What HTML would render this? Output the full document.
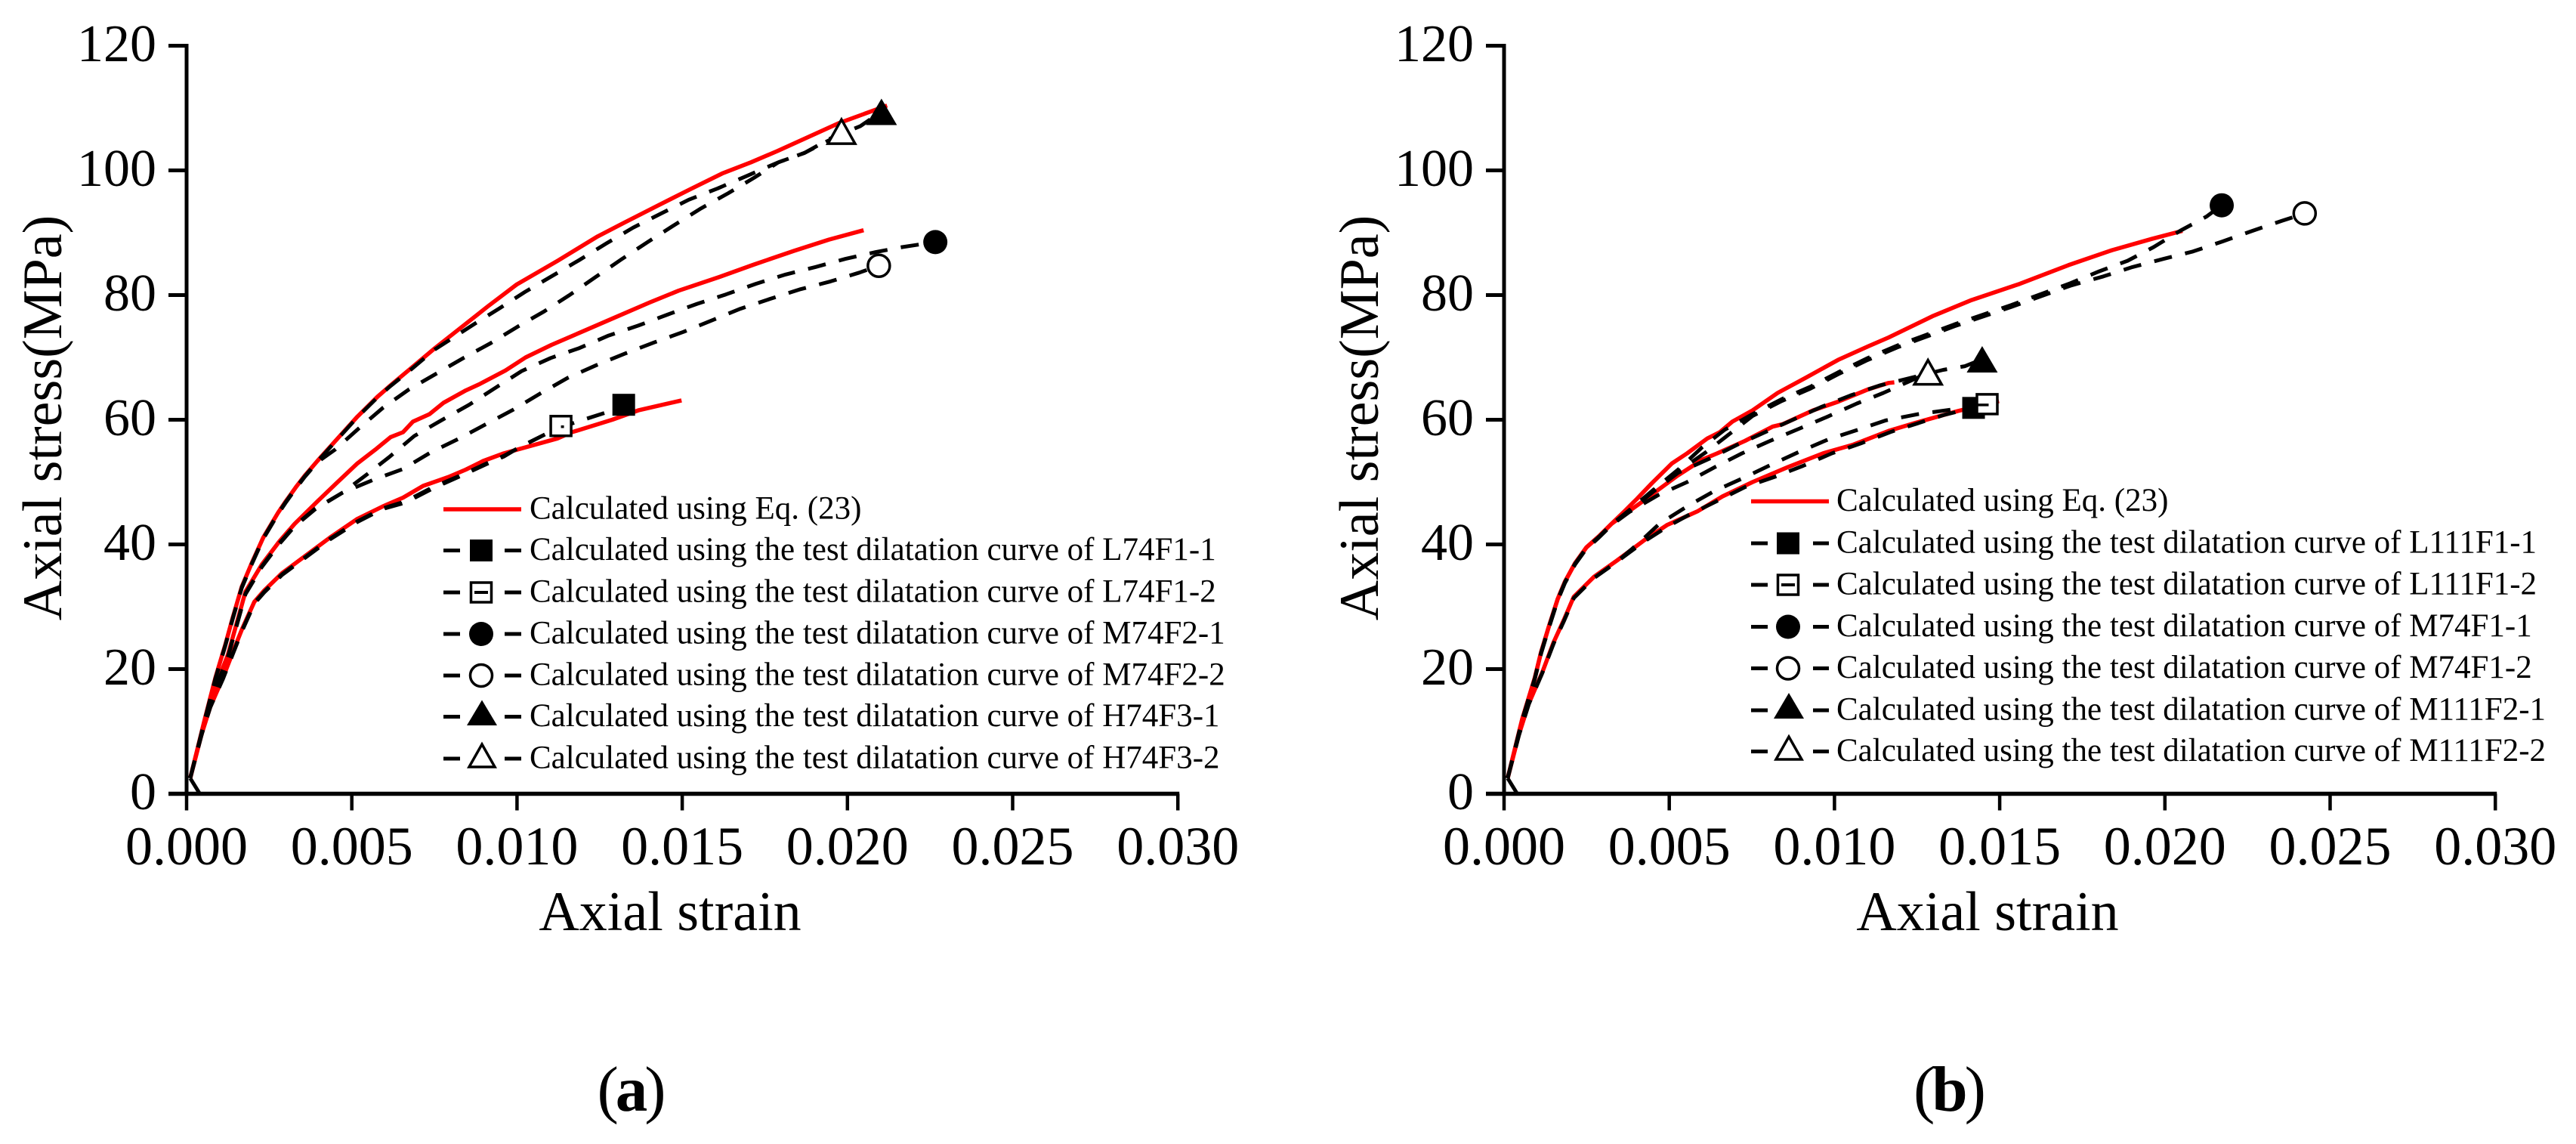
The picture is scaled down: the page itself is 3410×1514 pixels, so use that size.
<!DOCTYPE html>
<html lang="en">
<head>
<meta charset="utf-8">
<title>Axial stress versus axial strain</title>
<style>
html,body{margin:0;padding:0;background:#fff;width:3410px;height:1514px;overflow:hidden}
svg{position:absolute;left:0;top:0;display:block}
text{font-family:"Liberation Serif",serif;fill:#000}
.leg{font-size:43px}
.ttl{font-size:74px}
.cap{font-size:85px;letter-spacing:-4px}
</style>
</head>
<body>
<svg id="figure" width="3410" height="1514" viewBox="0 0 3410 1514" xmlns="http://www.w3.org/2000/svg">
  <rect width="3410" height="1514" fill="#fff"/>

  <g id="panel-a">
    <text class="ttl" x="887" y="1231" text-anchor="middle">Axial strain</text>
    <text class="ttl" transform="translate(81,553) rotate(-90)" text-anchor="middle">Axial stress(MPa)</text>
  </g>
  <g id="panel-b">
    <text class="ttl" x="2631" y="1231" text-anchor="middle">Axial strain</text>
    <text class="ttl" transform="translate(1824,553) rotate(-90)" text-anchor="middle">Axial stress(MPa)</text>
  </g>

  <g id="legend-a" stroke-linecap="butt">
    <g>
      <line x1="587" x2="690" y1="674" y2="674" stroke="#f00" stroke-width="5.5"/>
      <text class="leg" x="701" y="686.5">Calculated using Eq. (23)</text>
    </g>
    <g>
      <line x1="587" x2="609" y1="728.5" y2="728.5" stroke="#000" stroke-width="5"/><line x1="668" x2="690" y1="728.5" y2="728.5" stroke="#000" stroke-width="5"/>
      <rect x="622" y="714" width="30" height="29" fill="#000"/>
      <text class="leg" x="701" y="741">Calculated using the test dilatation curve of L74F1-1</text>
    </g>
    <g>
      <line x1="587" x2="609" y1="784" y2="784" stroke="#000" stroke-width="5"/><line x1="668" x2="690" y1="784" y2="784" stroke="#000" stroke-width="5"/>
      <rect x="623.5" y="771" width="27" height="26" fill="#fff" stroke="#000" stroke-width="3.5"/>
      <line x1="628" x2="646" y1="784" y2="784" stroke="#000" stroke-width="4"/>
      <text class="leg" x="701" y="796.5">Calculated using the test dilatation curve of L74F1-2</text>
    </g>
    <g>
      <line x1="587" x2="609" y1="839" y2="839" stroke="#000" stroke-width="5"/><line x1="668" x2="690" y1="839" y2="839" stroke="#000" stroke-width="5"/>
      <circle cx="637" cy="839" r="16" fill="#000"/>
      <text class="leg" x="701" y="851.5">Calculated using the test dilatation curve of M74F2-1</text>
    </g>
    <g>
      <line x1="587" x2="609" y1="894" y2="894" stroke="#000" stroke-width="5"/><line x1="668" x2="690" y1="894" y2="894" stroke="#000" stroke-width="5"/>
      <circle cx="637" cy="894" r="14.5" fill="#fff" stroke="#000" stroke-width="3.5"/>
      <text class="leg" x="701" y="906.5">Calculated using the test dilatation curve of M74F2-2</text>
    </g>
    <g>
      <line x1="587" x2="609" y1="948.5" y2="948.5" stroke="#000" stroke-width="5"/><line x1="668" x2="690" y1="948.5" y2="948.5" stroke="#000" stroke-width="5"/>
      <polygon points="638,926.5 658,960 618,960" fill="#000"/>
      <text class="leg" x="701" y="961">Calculated using the test dilatation curve of H74F3-1</text>
    </g>
    <g>
      <line x1="587" x2="609" y1="1004" y2="1004" stroke="#000" stroke-width="5"/><line x1="668" x2="690" y1="1004" y2="1004" stroke="#000" stroke-width="5"/>
      <polygon points="638,985 655,1015 621,1015" fill="#fff" stroke="#000" stroke-width="3.5"/>
      <text class="leg" x="701" y="1016.5">Calculated using the test dilatation curve of H74F3-2</text>
    </g>
  </g>

  <g id="legend-b" stroke-linecap="butt">
    <g>
      <line x1="2318" x2="2421" y1="663.5" y2="663.5" stroke="#f00" stroke-width="5.5"/>
      <text class="leg" x="2431" y="676">Calculated using Eq. (23)</text>
    </g>
    <g>
      <line x1="2318" x2="2340" y1="719" y2="719" stroke="#000" stroke-width="5"/><line x1="2400" x2="2421" y1="719" y2="719" stroke="#000" stroke-width="5"/>
      <rect x="2352" y="704.5" width="30" height="29" fill="#000"/>
      <text class="leg" x="2431" y="731.5">Calculated using the test dilatation curve of L111F1-1</text>
    </g>
    <g>
      <line x1="2318" x2="2340" y1="774" y2="774" stroke="#000" stroke-width="5"/><line x1="2400" x2="2421" y1="774" y2="774" stroke="#000" stroke-width="5"/>
      <rect x="2353.5" y="761" width="27" height="26" fill="#fff" stroke="#000" stroke-width="3.5"/>
      <line x1="2358" x2="2376" y1="774" y2="774" stroke="#000" stroke-width="4"/>
      <text class="leg" x="2431" y="786.5">Calculated using the test dilatation curve of L111F1-2</text>
    </g>
    <g>
      <line x1="2318" x2="2340" y1="829.5" y2="829.5" stroke="#000" stroke-width="5"/><line x1="2400" x2="2421" y1="829.5" y2="829.5" stroke="#000" stroke-width="5"/>
      <circle cx="2367" cy="829.5" r="16" fill="#000"/>
      <text class="leg" x="2431" y="842">Calculated using the test dilatation curve of M74F1-1</text>
    </g>
    <g>
      <line x1="2318" x2="2340" y1="884.5" y2="884.5" stroke="#000" stroke-width="5"/><line x1="2400" x2="2421" y1="884.5" y2="884.5" stroke="#000" stroke-width="5"/>
      <circle cx="2367" cy="884.5" r="14.5" fill="#fff" stroke="#000" stroke-width="3.5"/>
      <text class="leg" x="2431" y="897">Calculated using the test dilatation curve of M74F1-2</text>
    </g>
    <g>
      <line x1="2318" x2="2340" y1="940" y2="940" stroke="#000" stroke-width="5"/><line x1="2400" x2="2421" y1="940" y2="940" stroke="#000" stroke-width="5"/>
      <polygon points="2368,917 2388,951 2348,951" fill="#000"/>
      <text class="leg" x="2431" y="952.5">Calculated using the test dilatation curve of M111F2-1</text>
    </g>
    <g>
      <line x1="2318" x2="2340" y1="994.5" y2="994.5" stroke="#000" stroke-width="5"/><line x1="2400" x2="2421" y1="994.5" y2="994.5" stroke="#000" stroke-width="5"/>
      <polygon points="2368,975 2385,1005 2351,1005" fill="#fff" stroke="#000" stroke-width="3.5"/>
      <text class="leg" x="2431" y="1007">Calculated using the test dilatation curve of M111F2-2</text>
    </g>
  </g>

  <text class="cap" x="834" y="1470" text-anchor="middle">(<tspan font-weight="bold">a</tspan>)</text>
  <text class="cap" x="2579" y="1470" text-anchor="middle">(<tspan font-weight="bold">b</tspan>)</text>
</svg>

<script>
// ---- axis values ----
const yTickValues = [0, 20, 40, 60, 80, 100, 120];
const xTickValues = [0, 0.005, 0.010, 0.015, 0.020, 0.025, 0.030];
const xTickLabels = ["0.000", "0.005", "0.010", "0.015", "0.020", "0.025", "0.030"];
const originStrain = [0.00011, 0.0004];
const originStress = [2.5, 0];

// ---- panel (a): red calculated curves ----
const aCalcHighStrain = [0.00011,0.00055,0.00087,0.00117,0.0014,0.00167,0.00197,0.00232,0.00277,0.003,0.00331,0.00357,0.00396,0.00457,0.00517,0.00578,0.00617,0.00671,0.00752,0.00807,0.00912,0.00999,0.01123,0.01244,0.01324,0.0142,0.01525,0.01621,0.01708,0.01788,0.01975,0.0212];
const aCalcHighStress = [2.5,12,18.6,23.9,28.3,33.2,37,41.1,45.1,46.9,49.2,51,53.4,57,60.5,63.7,65.5,67.9,71.5,73.8,78.2,81.7,85.5,89.4,91.6,94.2,97,99.5,101.3,103.1,107.6,110.4];
const aCalcMidStrain = [0.00011,0.00055,0.00098,0.00125,0.00178,0.00228,0.00281,0.00327,0.00396,0.00457,0.00517,0.00571,0.00617,0.00655,0.00685,0.00735,0.00777,0.00845,0.00886,0.00965,0.01026,0.01104,0.01209,0.01296,0.01401,0.01489,0.01612,0.01717,0.01839,0.01944,0.02049];
const aCalcMidStress = [2.5,11.5,18.6,22.3,32.4,36.8,40.5,43.3,46.9,50,53,55.2,57.2,58,59.7,60.9,62.7,64.7,65.7,67.9,70,72,74.4,76.4,78.8,80.7,82.9,84.9,87.1,88.9,90.4];
const aCalcLowStrain = [0.00011,0.00042,0.00072,0.0011,0.0014,0.00167,0.00205,0.00235,0.00289,0.0035,0.00434,0.00517,0.00594,0.00655,0.00716,0.00792,0.00845,0.00898,0.0096,0.01122,0.01166,0.01288,0.01367,0.01498];
const aCalcLowStress = [2.5,9,14,18.6,22.7,26.3,30.8,32.6,35.4,37.8,41.1,44.1,46.1,47.5,49.4,50.8,52,53.4,54.6,57,58,60,61.5,63.1];

// ---- panel (a): test-dilatation curves ----
const aL1Strain = [0.00011,0.00042,0.00072,0.0011,0.0014,0.00167,0.00205,0.00235,0.00289,0.0035,0.00434,0.00517,0.00594,0.00662,0.00746,0.00826,0.00908,0.0096,0.01008,0.01083,0.01133,0.01183,0.01266,0.01323];
const aL1Stress = [2.5,9,14,18.5,22.5,26.1,30.6,32.4,35.2,37.6,40.9,43.7,45.8,46.9,49.2,51,53,54.2,55.6,57.6,58.8,59.7,61.1,62.4];
const aL2Strain = [0.00011,0.00042,0.00072,0.0011,0.0014,0.00167,0.00205,0.00235,0.00289,0.0035,0.00434,0.00517,0.00594,0.00662,0.00746,0.00826,0.00908,0.0096,0.01008,0.01083,0.01133];
const aL2Stress = [2.5,8.9,13.9,18.4,22.4,26,30.5,32.3,35.1,37.5,40.8,43.6,45.7,46.7,49,50.9,52.9,54.1,55.6,57.6,59];
const aM1Strain = [0.00011,0.00055,0.00098,0.00125,0.00178,0.00228,0.00281,0.00327,0.00388,0.00472,0.0054,0.00613,0.00689,0.00771,0.00855,0.00931,0.01014,0.01102,0.01189,0.01277,0.01367,0.01457,0.01545,0.01632,0.01723,0.01813,0.01903,0.01994,0.02086,0.02166,0.02266];
const aM1Stress = [2.5,11.5,18.4,22,32.1,36.5,40.2,43,45.7,48.3,51,54,57.4,59.9,62.4,65,67.8,69.9,71.5,73.5,75.1,76.9,78.6,80.1,81.8,83.3,84.5,85.8,86.9,87.7,88.5];
const aM2Strain = [0.00011,0.00055,0.00098,0.00125,0.00178,0.00228,0.00281,0.00327,0.00388,0.00472,0.00567,0.00655,0.00737,0.00825,0.00903,0.00988,0.0107,0.01153,0.01238,0.01326,0.01415,0.01504,0.01588,0.01676,0.01767,0.01855,0.01949,0.02036,0.02095];
const aM2Stress = [2.5,11.4,18.3,21.9,32,36.4,40.1,42.9,45.6,48.3,50.4,52.1,54.7,57,59.2,61.6,64.2,66.7,68.7,70.6,72.4,74.1,75.9,77.8,79.4,80.9,82.2,83.6,84.7];
const aH1Strain = [0.00011,0.00055,0.00087,0.00117,0.0014,0.00167,0.00197,0.00232,0.00277,0.003,0.00331,0.00357,0.00396,0.00457,0.00517,0.00578,0.00617,0.00671,0.00752,0.00866,0.00945,0.01024,0.01104,0.01188,0.01271,0.01351,0.01437,0.0152,0.01607,0.01695,0.01791,0.0187,0.0198,0.02039,0.02103];
const aH1Stress = [2.5,11.9,18.5,23.8,28.2,33.1,36.9,41,45,46.8,49.1,50.9,53.3,56.9,60.4,63.6,65.4,67.7,71.3,75.2,77.8,80.5,83,85.6,88.3,90.8,93.1,95.3,97.1,99.1,101.3,102.8,105.8,107.1,109.4];
const aH2Strain = [0.00011,0.00055,0.00087,0.00117,0.0014,0.00167,0.00197,0.00232,0.00277,0.003,0.00331,0.00357,0.00396,0.00449,0.00521,0.00594,0.00674,0.00756,0.00838,0.00921,0.01001,0.01083,0.01159,0.01238,0.01315,0.01395,0.01475,0.01557,0.01638,0.01717,0.01791,0.0187,0.01982];
const aH2Stress = [2.5,11.8,18.4,23.7,28.1,33,36.8,40.9,44.9,46.7,49,50.8,53.2,55.2,58.6,61.9,64.9,67.4,69.9,72.3,74.9,77.4,80,82.9,85.7,88.5,91.2,93.9,96.3,98.8,101.3,102.8,106.1];

// ---- panel (b): red calculated curves ----
const bCalcHighStrain = [0.00011,0.00055,0.00093,0.00112,0.00135,0.00162,0.00184,0.00215,0.00249,0.00287,0.00325,0.00364,0.00402,0.00447,0.00508,0.00554,0.00615,0.00653,0.00691,0.00752,0.00828,0.00912,0.01011,0.01103,0.01164,0.01296,0.01415,0.01561,0.01708,0.0184,0.01959,0.02053];
const bCalcHighStress = [2.5,12,18.6,22.7,26.7,31.2,34,37,39.5,41.3,43.3,45.3,47.3,49.8,53,54.6,57,58,59.7,61.5,64.3,66.7,69.6,71.8,73.2,76.6,79.2,81.8,84.8,87.2,89,90.3];
const bCalcMidStrain = [0.00011,0.00055,0.00093,0.00112,0.00135,0.00162,0.00184,0.00215,0.00249,0.00287,0.00325,0.00364,0.00409,0.00478,0.00524,0.006,0.00645,0.00729,0.00813,0.00844,0.00935,0.01011,0.01103,0.01164,0.01181];
const bCalcMidStress = [2.5,12,18.6,22.7,26.7,31.2,34,37,39.5,41.3,43.3,44.8,46.5,49.2,51,53.6,54.6,56.6,58.9,59.3,61.5,62.9,64.9,65.9,66];
const bCalcLowStrain = [0.00011,0.00045,0.00075,0.00116,0.0015,0.00181,0.00211,0.00272,0.00341,0.00425,0.00493,0.00585,0.00661,0.00752,0.00859,0.00965,0.01057,0.01164,0.01245,0.01373,0.01498];
const bCalcLowStress = [2.5,9.5,14.5,19.5,24.3,27.9,31.6,34.8,37.4,40.7,43.1,45.3,47.7,50,52.4,54.6,56,58.2,59.5,61.4,63];

// ---- panel (b): test-dilatation curves ----
const bL1Strain = [0.00011,0.00045,0.00075,0.00116,0.0015,0.00181,0.00211,0.00272,0.00341,0.00425,0.00493,0.00558,0.00642,0.00729,0.00817,0.00905,0.00992,0.0108,0.01173,0.01333,0.01421];
const bL1Stress = [2.5,9.4,14.4,19.4,24.1,27.7,31.4,34.6,37.2,40.5,42.8,44.7,46.9,49.2,50.8,52.6,54.6,56.2,58.1,60.8,61.9];
const bL2Strain = [0.00011,0.00045,0.00075,0.00116,0.0015,0.00181,0.00211,0.00272,0.00341,0.00403,0.0047,0.00554,0.00634,0.00722,0.00805,0.00891,0.00979,0.01071,0.01156,0.01253,0.01349,0.01462];
const bL2Stress = [2.5,9.4,14.4,19.4,24.1,27.7,31.4,34.6,37.2,40,43.3,46.1,48.5,50.6,52.7,54.8,56.8,58.4,59.9,60.9,61.6,62.5];
const bM1Strain = [0.00011,0.00055,0.00093,0.00112,0.00135,0.00162,0.00184,0.00215,0.00249,0.00287,0.00325,0.00379,0.00455,0.00527,0.006,0.00668,0.00752,0.0084,0.00927,0.01011,0.01097,0.0119,0.01363,0.01535,0.01714,0.01801,0.01887,0.01966,0.02046,0.02126,0.02172];
const bM1Stress = [2.5,11.9,18.5,22.6,26.6,31.1,33.9,36.9,39.4,41.2,43.2,45.5,48.9,52,55.6,58.4,60.9,63.3,65.3,67.6,69.8,71.9,75.3,78.4,81.9,83.8,85.5,87.7,90.3,92.6,94.4];
const bM2Strain = [0.00011,0.00055,0.00093,0.00112,0.00135,0.00162,0.00184,0.00215,0.00249,0.00287,0.00325,0.00379,0.00455,0.00527,0.00611,0.00684,0.00752,0.0084,0.00927,0.01011,0.01097,0.0119,0.01363,0.01535,0.01714,0.01814,0.01902,0.01996,0.02085,0.02174,0.02265,0.02354,0.02423];
const bM2Stress = [2.5,11.8,18.4,22.5,26.5,31,33.8,36.8,39.3,41.1,43.1,45.4,48.7,51.7,54.8,57.8,60.6,63,65,67.3,69.5,71.6,75,78.1,81.5,83,84.5,85.8,87,88.6,90.3,91.9,93.1];
const bF1Strain = [0.00011,0.00055,0.00093,0.00112,0.00135,0.00162,0.00184,0.00215,0.00249,0.00287,0.00325,0.00379,0.00455,0.00527,0.00623,0.00706,0.0079,0.00874,0.00962,0.01049,0.01137,0.0123,0.01329,0.01395,0.01447];
const bF1Stress = [2.5,11.9,18.5,22.6,26.6,31.1,33.9,36.9,39.4,41.2,43.2,45.3,48.6,51.5,53.8,56,58,60,62.1,63.9,65.5,66.7,68,68.6,69.7];
const bF2Strain = [0.00011,0.00055,0.00093,0.00112,0.00135,0.00162,0.00184,0.00215,0.00249,0.00287,0.00325,0.00379,0.00466,0.00554,0.00638,0.0072,0.00805,0.00895,0.00979,0.01068,0.01148,0.01283];
const bF2Stress = [2.5,11.8,18.4,22.5,26.5,31,33.8,36.8,39.3,41.1,43.1,45.2,47.9,50,52.4,54.6,56.6,58.6,60.5,62.6,64.3,67.5];

// ---- axis functions ----
const NS = "http://www.w3.org/2000/svg";
function makeAxes(originX) {
  return {
    x: function (strain) { return originX + strain * 43740; },
    y: function (stress) { return 1050.5 - stress * 8.25; }
  };
}
const axesA = makeAxes(247);
const axesB = makeAxes(1991);

function svgEl(tag, parent) {
  const el = document.createElementNS(NS, tag);
  parent.appendChild(el);
  return el;
}
function pathFor(axes, strain, stress) {
  return strain.map(function (e, i) {
    return (i ? "L" : "M") + axes.x(e).toFixed(1) + " " + axes.y(stress[i]).toFixed(1);
  }).join("");
}

function drawAxes(parent, axes, suffix) {
  const yAxis = svgEl("line", parent);
  
  
  yAxis.setAttribute("x1", axes.x(0));
  yAxis.setAttribute("x2", axes.x(0));
  yAxis.setAttribute("y1", axes.y(120) - 2.5);
  yAxis.setAttribute("y2", axes.y(0) + 2.5);
  yAxis.setAttribute("stroke", "#000");
  yAxis.setAttribute("stroke-width", "5");

  const xAxis = svgEl("line", parent);
  
  
  xAxis.setAttribute("x1", axes.x(0) - 24);
  xAxis.setAttribute("x2", axes.x(0.030) + 2);
  xAxis.setAttribute("y1", axes.y(0));
  xAxis.setAttribute("y2", axes.y(0));
  xAxis.setAttribute("stroke", "#000");
  xAxis.setAttribute("stroke-width", "5.5");

  yTickValues.forEach(function (v) {
    const tick = svgEl("line", parent);
    
    
    tick.setAttribute("x1", axes.x(0) - 24);
    tick.setAttribute("x2", axes.x(0));
    tick.setAttribute("y1", axes.y(v));
    tick.setAttribute("y2", axes.y(v));
    tick.setAttribute("stroke", "#000");
    tick.setAttribute("stroke-width", "5");

    const label = svgEl("text", parent);
    
    
    label.setAttribute("x", axes.x(0) - 40);
    label.setAttribute("y", axes.y(v) + 20.5);
    label.setAttribute("text-anchor", "end");
    label.setAttribute("font-size", "70");
    label.textContent = String(v);
  });

  xTickValues.forEach(function (t, i) {
    const tick = svgEl("line", parent);
    
    
    tick.setAttribute("x1", axes.x(t));
    tick.setAttribute("x2", axes.x(t));
    tick.setAttribute("y1", axes.y(0));
    tick.setAttribute("y2", axes.y(0) + 22);
    tick.setAttribute("stroke", "#000");
    tick.setAttribute("stroke-width", "4.5");

    const label = svgEl("text", parent);
    
    
    label.setAttribute("x", axes.x(t));
    label.setAttribute("y", 1144);
    label.setAttribute("text-anchor", "middle");
    label.setAttribute("font-size", "72");
    label.textContent = xTickLabels[i];
  });
}

function drawOriginMark(parent, axes, suffix) {
  const mark = svgEl("polygon", parent);
  
  
  mark.setAttribute("points", axes.x(0) + "," + axes.y(0) + " " + axes.x(originStrain[1]) + "," + axes.y(originStress[1]) + " " + axes.x(originStrain[0]) + "," + axes.y(originStress[0]));
  mark.setAttribute("fill", "#fff");
  const edge = svgEl("path", parent);
  
  
  edge.setAttribute("d", pathFor(axes, originStrain, originStress));
  edge.setAttribute("stroke", "#000");
  edge.setAttribute("stroke-width", "5");
  edge.setAttribute("fill", "none");
}

function drawRed(parent, axes, name, strain, stress) {
  const line = svgEl("path", parent);
  
  
  line.setAttribute("d", pathFor(axes, strain, stress));
  line.setAttribute("stroke", "#f00");
  line.setAttribute("stroke-width", "5.5");
  line.setAttribute("stroke-linejoin", "round");
  line.setAttribute("fill", "none");
}

function drawDashed(parent, axes, name, strain, stress) {
  const line = svgEl("path", parent);
  
  
  line.setAttribute("d", pathFor(axes, strain, stress));
  line.setAttribute("stroke", "#000");
  line.setAttribute("stroke-width", "5");
  line.setAttribute("stroke-dasharray", "24 18");
  line.setAttribute("stroke-linejoin", "round");
  line.setAttribute("fill", "none");
}

function drawMarker(parent, axes, name, shape, open, strain, stress) {
  const px = axes.x(strain[strain.length - 1]);
  const py = axes.y(stress[stress.length - 1]);
  let el;
  if (shape === "square") {
    el = svgEl("rect", parent);
    el.setAttribute("x", px - (open ? 13.5 : 15));
    el.setAttribute("y", py - (open ? 13 : 14.5));
    el.setAttribute("width", open ? 27 : 30);
    el.setAttribute("height", open ? 26 : 29);
  } else if (shape === "circle") {
    el = svgEl("circle", parent);
    el.setAttribute("cx", px);
    el.setAttribute("cy", py);
    el.setAttribute("r", open ? 14.5 : 16);
  } else {
    el = svgEl("polygon", parent);
    const h = open ? 15 : 17.5;
    const w = open ? 18 : 20.5;
    el.setAttribute("points", px + "," + (py - h - (open ? 2 : 0)) + " " + (px + w) + "," + (py + h) + " " + (px - w) + "," + (py + h));
  }
  
  
  el.setAttribute("fill", open ? "#fff" : "#000");
  if (open) {
    el.setAttribute("stroke", "#000");
    el.setAttribute("stroke-width", "3.5");
  }
}

function drawInnerDash(parent, axes, name, strain, stress, left, right) {
  const px = axes.x(strain[strain.length - 1]);
  const py = axes.y(stress[stress.length - 1]);
  const dash = svgEl("line", parent);
  
  
  dash.setAttribute("x1", px + left);
  dash.setAttribute("x2", px + right);
  dash.setAttribute("y1", py + 1);
  dash.setAttribute("y2", py + 1);
  dash.setAttribute("stroke", "#000");
  dash.setAttribute("stroke-width", "3.5");
}

// ---- render ----
const panelA = document.getElementById("panel-a");
const panelB = document.getElementById("panel-b");

drawOriginMark(panelA, axesA, "a");
drawOriginMark(panelB, axesB, "b");

drawRed(panelA, axesA, "calc-curve-high-a", aCalcHighStrain, aCalcHighStress);
drawRed(panelA, axesA, "calc-curve-mid-a", aCalcMidStrain, aCalcMidStress);
drawRed(panelA, axesA, "calc-curve-low-a", aCalcLowStrain, aCalcLowStress);
drawDashed(panelA, axesA, "test-curve-l74f1-1", aL1Strain, aL1Stress);
drawDashed(panelA, axesA, "test-curve-l74f1-2", aL2Strain, aL2Stress);
drawDashed(panelA, axesA, "test-curve-m74f2-1", aM1Strain, aM1Stress);
drawDashed(panelA, axesA, "test-curve-m74f2-2", aM2Strain, aM2Stress);
drawDashed(panelA, axesA, "test-curve-h74f3-1", aH1Strain, aH1Stress);
drawDashed(panelA, axesA, "test-curve-h74f3-2", aH2Strain, aH2Stress);
drawMarker(panelA, axesA, "marker-l74f1-1", "square", false, aL1Strain, aL1Stress);
drawMarker(panelA, axesA, "marker-l74f1-2", "square", true, aL2Strain, aL2Stress);
drawInnerDash(panelA, axesA, "marker-l74f1-2-inner-mark", aL2Strain, aL2Stress, 0, 4);
drawMarker(panelA, axesA, "marker-m74f2-1", "circle", false, aM1Strain, aM1Stress);
drawMarker(panelA, axesA, "marker-m74f2-2", "circle", true, aM2Strain, aM2Stress);
drawMarker(panelA, axesA, "marker-h74f3-1", "triangle", false, aH1Strain, aH1Stress);
drawMarker(panelA, axesA, "marker-h74f3-2", "triangle", true, aH2Strain, aH2Stress);

drawRed(panelB, axesB, "calc-curve-high-b", bCalcHighStrain, bCalcHighStress);
drawRed(panelB, axesB, "calc-curve-mid-b", bCalcMidStrain, bCalcMidStress);
drawRed(panelB, axesB, "calc-curve-low-b", bCalcLowStrain, bCalcLowStress);
drawDashed(panelB, axesB, "test-curve-l111f1-1", bL1Strain, bL1Stress);
drawDashed(panelB, axesB, "test-curve-l111f1-2", bL2Strain, bL2Stress);
drawDashed(panelB, axesB, "test-curve-m74f1-1", bM1Strain, bM1Stress);
drawDashed(panelB, axesB, "test-curve-m74f1-2", bM2Strain, bM2Stress);
drawDashed(panelB, axesB, "test-curve-m111f2-1", bF1Strain, bF1Stress);
drawDashed(panelB, axesB, "test-curve-m111f2-2", bF2Strain, bF2Stress);
drawMarker(panelB, axesB, "marker-l111f1-1", "square", false, bL1Strain, bL1Stress);
drawMarker(panelB, axesB, "marker-l111f1-2", "square", true, bL2Strain, bL2Stress);
drawInnerDash(panelB, axesB, "marker-l111f1-2-inner-dash", bL2Strain, bL2Stress, -13, 2);
drawMarker(panelB, axesB, "marker-m74f1-1", "circle", false, bM1Strain, bM1Stress);
drawMarker(panelB, axesB, "marker-m74f1-2", "circle", true, bM2Strain, bM2Stress);
drawMarker(panelB, axesB, "marker-m111f2-1", "triangle", false, bF1Strain, bF1Stress);
drawMarker(panelB, axesB, "marker-m111f2-2", "triangle", true, bF2Strain, bF2Stress);

drawAxes(panelA, axesA, "a");
drawAxes(panelB, axesB, "b");
</script>
</body>
</html>
